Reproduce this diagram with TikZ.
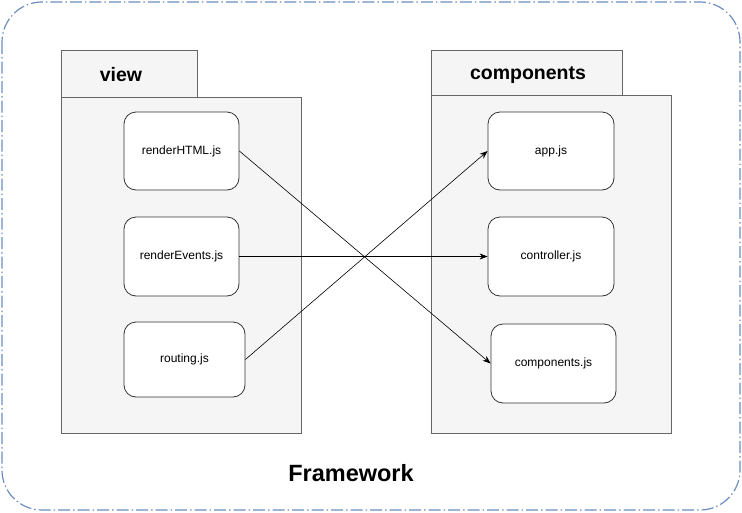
\documentclass[tikz,border=0pt]{standalone}
\usepackage{fontspec}
\setmainfont{Liberation Sans}
\usetikzlibrary{arrows.meta}
\definecolor{frameblue}{HTML}{6C8EBF}
\definecolor{pkgfill}{HTML}{F5F5F5}
\definecolor{pkgline}{HTML}{666666}
\tikzset{
  pkg/.style={draw=pkgline, fill=pkgfill, line width=0.8pt},
  filebox/.style={draw=black!80, fill=white, rounded corners=12pt, line width=0.8pt,
    rectangle, inner sep=0pt, font=\fontsize{12}{14}\selectfont},
  pkglabel/.style={font=\fontsize{19.5}{22}\selectfont\bfseries},
  link/.style={draw=black, line width=0.6pt, -{Stealth[length=8pt,width=6pt]}}
}
\begin{document}
\begin{tikzpicture}[x=1pt,y=-1pt]
\useasboundingbox (0,0) rectangle (742,512);
% outer frame
\draw[frameblue, line width=1.2pt, rounded corners=40pt, dash pattern=on 12pt off 3pt on 1.5pt off 3pt] (2,2) rectangle (740,510);
% view package
\draw[pkg] (61,50) rectangle (197,97);
\draw[pkg] (61,97) rectangle (301,433);
\node[pkglabel] (viewlbl) at (121,75) {view};
% components package
\draw[pkg] (431,50) rectangle (622,95);
\draw[pkg] (431,95) rectangle (671,433);
\node[pkglabel] (complbl) at (528,75) {components};
% left nodes
\node[filebox, minimum width=115pt, minimum height=78pt] (rhtml) at (181.5,151) {renderHTML.js};
\node[filebox, minimum width=115pt, minimum height=79pt] (revt) at (181.5,256.5) {renderEvents.js};
\node[filebox, minimum width=121pt, minimum height=75pt] (rout) at (184.5,359.5) {routing.js};
% right nodes
\node[filebox, minimum width=126pt, minimum height=78pt] (app) at (551,151) {app.js};
\node[filebox, minimum width=126pt, minimum height=79pt] (ctrl) at (551,256.5) {controller.js};
\node[filebox, minimum width=125pt, minimum height=79pt] (comp) at (553.5,363.5) {components.js};
% connectors
\draw[link] (rhtml.east) -- (comp.west);
\draw[link] (revt.east) -- (ctrl.west);
\draw[link] (rout.east) -- (app.west);
% title
\node[font=\fontsize{23.5}{28}\selectfont\bfseries] (fw) at (351,473) {Framework};
\end{tikzpicture}
\end{document}
